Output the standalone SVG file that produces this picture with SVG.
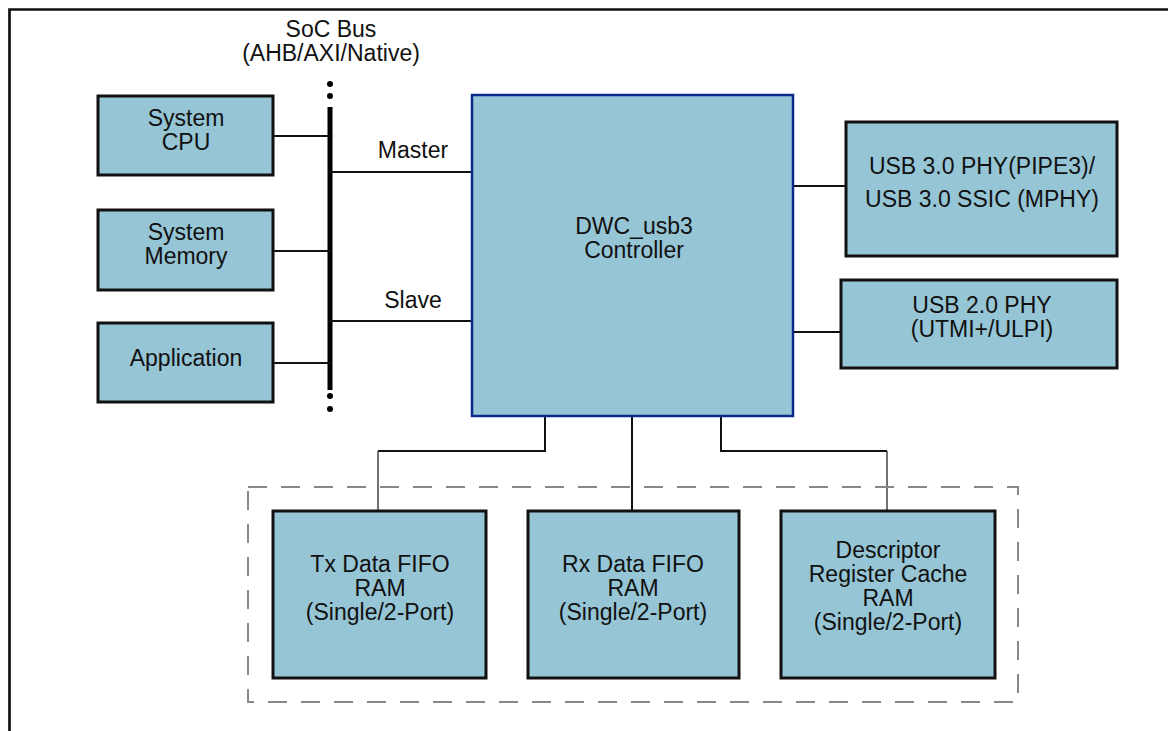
<svg xmlns="http://www.w3.org/2000/svg" width="1168" height="731" viewBox="0 0 1168 731">
<style>
text{font-family:"Liberation Sans",Arial,sans-serif;font-size:23px;fill:#111;text-anchor:middle}
.box{fill:#96c5d5;stroke:#111;stroke-width:3}
.ctl{fill:#96c5d5;stroke:#0c2a8a;stroke-width:2.5}
.ln{stroke:#111;stroke-width:2;fill:none}
.thin{stroke:#444;stroke-width:1.5;fill:none}
.dash{fill:none;stroke:#888;stroke-width:2;stroke-dasharray:19 14}
</style>
<rect width="1168" height="731" fill="#fff"/>
<path d="M9.5 731 V9.5 H1168" fill="none" stroke="#111" stroke-width="2.7"/>
<g id="soc-bus">
<text x="331" y="37">SoC Bus</text>
<text x="331" y="61">(AHB/AXI/Native)</text>
<circle cx="330" cy="84" r="3"/><circle cx="330" cy="96" r="3"/>
<rect x="327.5" y="107" width="5" height="283" fill="#000"/>
<circle cx="330" cy="396" r="3"/><circle cx="330" cy="409" r="3"/>
</g>
<g id="connectors">
<line class="ln" x1="273" y1="136" x2="330" y2="136"/>
<line class="ln" x1="273" y1="251" x2="330" y2="251"/>
<line class="ln" x1="273" y1="363" x2="330" y2="363"/>
<line class="ln" x1="330" y1="172" x2="472" y2="172"/>
<line class="ln" x1="330" y1="321" x2="472" y2="321"/>
<line class="ln" x1="793" y1="186" x2="846" y2="186"/>
<line class="ln" x1="793" y1="332" x2="841" y2="332"/>
<path class="ln" d="M545 416 V451 H378"/>
<path class="thin" d="M378 451 V511"/>
<path class="ln" d="M632 416 V511"/>
<path class="ln" d="M721 416 V451 H887"/>
<path class="thin" d="M887 451 V511"/>
<text x="413" y="158">Master</text>
<text x="413" y="308">Slave</text>
</g>
<rect class="dash" x="248" y="487" width="770" height="215"/>
<g id="cpu"><rect class="box" x="98" y="96" width="175" height="79"/><text x="186" y="126">System</text><text x="186" y="150">CPU</text></g>
<g id="memory"><rect class="box" x="98" y="210" width="175" height="80"/><text x="186" y="240">System</text><text x="186" y="264">Memory</text></g>
<g id="application"><rect class="box" x="98" y="323" width="175" height="79"/><text x="186" y="366">Application</text></g>
<g id="controller"><rect class="ctl" x="472" y="95" width="321" height="321"/><text x="634" y="234">DWC_usb3</text><text x="634" y="258">Controller</text></g>
<g id="usb3phy"><rect class="box" x="846" y="122" width="271" height="134"/><text x="982" y="174">USB 3.0 PHY(PIPE3)/</text><text x="982" y="207">USB 3.0 SSIC (MPHY)</text></g>
<g id="usb2phy"><rect class="box" x="841" y="280" width="276" height="88"/><text x="982" y="313">USB 2.0 PHY</text><text x="982" y="337">(UTMI+/ULPI)</text></g>
<g id="txfifo"><rect class="box" x="273" y="511" width="213" height="167"/><text x="380" y="572">Tx Data FIFO</text><text x="380" y="596">RAM</text><text x="380" y="620">(Single/2-Port)</text></g>
<g id="rxfifo"><rect class="box" x="528" y="511" width="211" height="167"/><text x="633" y="572">Rx Data FIFO</text><text x="633" y="596">RAM</text><text x="633" y="620">(Single/2-Port)</text></g>
<g id="desc"><rect class="box" x="781" y="511" width="214" height="167"/><text x="888" y="558">Descriptor</text><text x="888" y="582">Register Cache</text><text x="888" y="606">RAM</text><text x="888" y="630">(Single/2-Port)</text></g>
</svg>
